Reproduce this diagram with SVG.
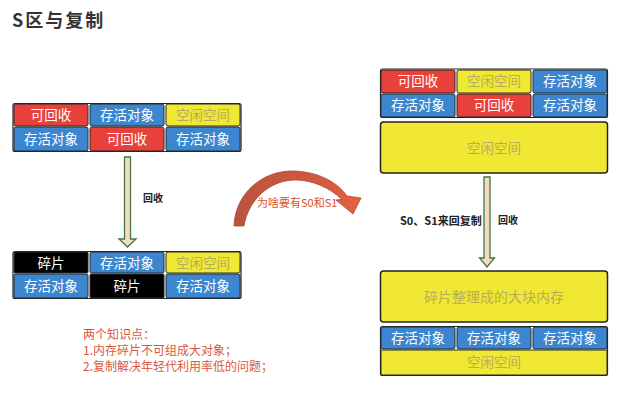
<svg xmlns="http://www.w3.org/2000/svg" width="623" height="398" viewBox="0 0 623 398">
<defs>
<style>
text{font-family:"Noto Sans CJK SC","Noto Sans",sans-serif;}
.c{stroke:#2a2a2a;stroke-width:1;}
.r{fill:#e8403a;}
.b{fill:#3b86cf;}
.y{fill:#f0e832;}
.k{fill:#000;}
.t{font-size:13.5px;fill:#fff;text-anchor:middle;}
.ty{font-size:13.5px;fill:#b5ae5a;text-anchor:middle;}
.frame{fill:none;stroke:#222;stroke-width:1.2;}
.arrow{fill:#f6d9c8;stroke:#3f7a35;stroke-width:1.3;}
.lbl{font-size:10px;font-weight:bold;fill:#222;}
.note{font-size:12px;fill:#d9583a;}
</style>
<linearGradient id="ga" x1="0" y1="0" x2="1" y2="0">
<stop offset="0" stop-color="#b9543f"/>
<stop offset="0.6" stop-color="#d0583e"/>
<stop offset="1" stop-color="#e8623c"/>
</linearGradient>
</defs>
<rect width="623" height="398" fill="#fff"/>
<text x="12" y="27" font-size="18" font-weight="bold" fill="#333" letter-spacing="2">S区与复制</text>

<g id="left-top">
<rect class="frame" x="13" y="103.5" width="228" height="48" rx="2"/>
<rect class="c r" x="14" y="104" width="74" height="22" rx="2"/><text class="t" x="51" y="120">可回收</text>
<rect class="c b" x="90" y="104" width="74" height="22" rx="2"/><text class="t" x="127" y="120">存活对象</text>
<rect class="c y" x="166" y="104" width="74" height="22" rx="2"/><text class="ty" x="203" y="120">空闲空间</text>
<rect class="c b" x="14" y="127" width="74" height="24" rx="2"/><text class="t" x="51" y="144">存活对象</text>
<rect class="c r" x="90" y="127" width="74" height="24" rx="2"/><text class="t" x="127" y="144">可回收</text>
<rect class="c b" x="166" y="127" width="74" height="24" rx="2"/><text class="t" x="203" y="144">存活对象</text>
</g>

<g id="left-bottom">
<rect class="frame" x="13" y="251.5" width="228" height="47" rx="2"/>
<rect class="c k" x="14" y="252" width="74" height="21" rx="1"/><text class="t" x="51" y="268">碎片</text>
<rect class="c b" x="90" y="252" width="74" height="21" rx="2"/><text class="t" x="127" y="268">存活对象</text>
<rect class="c y" x="166" y="252" width="74" height="21" rx="2"/><text class="ty" x="203" y="268">空闲空间</text>
<rect class="c b" x="14" y="274" width="74" height="24" rx="2"/><text class="t" x="51" y="291">存活对象</text>
<rect class="c k" x="90" y="274" width="74" height="24" rx="1"/><text class="t" x="127" y="291">碎片</text>
<rect class="c b" x="166" y="274" width="74" height="24" rx="2"/><text class="t" x="203" y="291">存活对象</text>
</g>

<g id="right-top">
<rect class="frame" x="380.5" y="69" width="227" height="48.5" rx="2"/>
<rect class="c r" x="381" y="70" width="74" height="23" rx="2"/><text class="t" x="418" y="86">可回收</text>
<rect class="c y" x="457" y="70" width="74" height="23" rx="2"/><text class="ty" x="494" y="86">空闲空间</text>
<rect class="c b" x="533" y="70" width="74" height="23" rx="2"/><text class="t" x="570" y="86">存活对象</text>
<rect class="c b" x="381" y="94" width="74" height="23" rx="2"/><text class="t" x="418" y="110">存活对象</text>
<rect class="c r" x="457" y="94" width="74" height="23" rx="2"/><text class="t" x="494" y="110">可回收</text>
<rect class="c b" x="533" y="94" width="74" height="23" rx="2"/><text class="t" x="570" y="110">存活对象</text>
</g>

<g id="right-free">
<rect x="380.5" y="122" width="227" height="51" rx="3" fill="#f0e832" stroke="#222" stroke-width="1.5"/>
<text class="ty" x="494" y="153">空闲空间</text>
</g>

<g id="right-compact">
<rect x="380.5" y="271" width="227" height="51" rx="3" fill="#f0e832" stroke="#222" stroke-width="1.5"/>
<text class="ty" x="494" y="302" style="font-size:14px">碎片整理成的大块内存</text>
</g>

<g id="right-bottom">
<rect class="frame" x="380.5" y="326.5" width="227" height="49" rx="2"/>
<rect class="c b" x="381" y="327" width="74" height="22" rx="2"/><text class="t" x="418" y="343">存活对象</text>
<rect class="c b" x="457" y="327" width="74" height="22" rx="2"/><text class="t" x="494" y="343">存活对象</text>
<rect class="c b" x="533" y="327" width="74" height="22" rx="2"/><text class="t" x="570" y="343">存活对象</text>
<rect class="c y" x="381" y="350" width="226" height="25" rx="1"/><text class="ty" x="494" y="367">空闲空间</text>
</g>

<g id="connectors">
<path class="arrow" d="M124.5,157 H130.5 V239 H136 L127.5,247 L119,239 H124.5 Z"/>
<path class="arrow" d="M484,177 H490 V258 H494.5 L487,267 L479.5,258 H484 Z"/>
<path d="M234,226 C235,194 262,170 294,171 C320,172 338,183 347,196 L361,198 L353,214 L336,200 L342,199.5 C330,188 313,180 295,180 C270,180 248,200 244,226 Z" fill="url(#ga)" stroke="#a9473a" stroke-width="0.8"/>
</g>

<g id="labels">
<text class="lbl" x="143" y="202">回收</text>
<text class="lbl" x="498" y="224">回收</text>
<text x="400" y="225" font-size="11" font-weight="bold" fill="#222">S0、S1来回复制</text>
<text x="257" y="207" font-size="11" fill="#e0502c">为啥要有S0和S1</text>
</g>

<g id="notes">
<text class="note" x="83" y="339">两个知识点：</text>
<text class="note" x="83" y="355">1.内存碎片不可组成大对象；</text>
<text class="note" x="83" y="371">2.复制解决年轻代利用率低的问题；</text>
</g>
</svg>
